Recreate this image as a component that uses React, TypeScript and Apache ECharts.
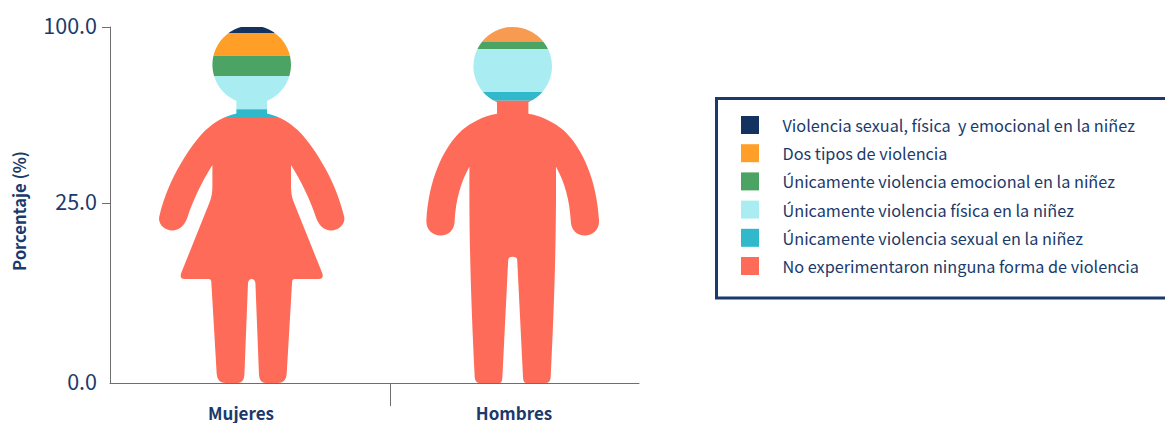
import React, { useEffect, useRef } from "react";
import * as echarts from "echarts";

const categories = ["Mujeres", "Hombres"];
const seriesNames = [
  "Violencia sexual, física  y emocional en la niñez",
  "Dos tipos de violencia",
  "Únicamente violencia emocional en la niñez",
  "Únicamente violencia física en la niñez",
  "Únicamente violencia sexual en la niñez",
  "No experimentaron ninguna forma de violencia",
];
// Values by series, [Mujeres, Hombres], listed in legend order (top of the figure first)
const ambasViolencias = [2.6, 0];
const dosTipos = [9.6, 6.4];
const soloEmocional = [8.7, 3.0];
const soloFisica = [14.1, 18.3];
const soloSexual = [3.8, 3.7];
const ninguna = [61.2, 68.6];
const seriesValues = [ambasViolencias, dosTipos, soloEmocional, soloFisica, soloSexual, ninguna];

const seriesColors = ["#14325F", "#FF9F27", "#4BA463", "#A9EDF2", "#2FB9CB", "#FF6B59"];
const maleOrange = "#F79B51";
const navy = "#1B3A6B";
const axisGrey = "#6E6E6E";
const font = '"Noto Sans CJK SC", "Noto Sans", sans-serif';

const yTickValues = [0, 25, 100];
const yTickLabels = ["0.0", "25.0", "100.0"];

// The reference's y axis is piecewise: 0-25 fills about half the height.
const BREAK_AT = 25;
const BREAK_POS = (180 / 356) * 100;
const warp = (v: number) =>
  v <= BREAK_AT ? (v / BREAK_AT) * BREAK_POS : BREAK_POS + ((v - BREAK_AT) / (100 - BREAK_AT)) * (100 - BREAK_POS);

// x axis runs over the plot width; the figures and labels sit off the even band centres
const X_MAX = 529;
const figureCenters = [141.7, 402.7];
const labelCenters = [131, 404];
const dividerTick = [280];

const femalePath =
  "M-15.3 74A39.3 39.3 0 1 1 15.3 74L15.3 86.5C28 89 38 96 46 103C60 117 83 150 92.3 189" +
  "C94.5 197 87 204 78.5 203.5C72 203 67 198 64.5 191C59 174 50 155 39.3 138L39.3 158C39.3 165 40 170 42 175" +
  "L70.5 246Q72.5 252 67 252L43 252Q40.5 252 40.4 255L35 347Q34.3 356 26 356L14 356Q8 356 7.3 348L3.7 256Q3 252 0 252" +
  "Q-3 252 -3.7 256L-7.3 348Q-8 356 -14 356L-26 356Q-34.3 356 -35 347L-40.4 255Q-40.5 252 -43 252L-67 252Q-72.5 252 -70.5 246" +
  "L-42 175C-40 170 -39.3 165 -39.3 158L-39.3 138C-50 155 -59 174 -64.5 191C-67 198 -72 203 -78.5 203.5" +
  "C-87 204 -94.5 197 -92.3 189C-83 150 -60 117 -46 103C-38 96 -28 89 -15.3 86.5Z";

const malePath =
  "M-15.7 75.3A39.3 39.3 0 1 1 15.7 75.3L15.7 86.7C30 89 42 96 50.6 103C71 122 84 155 86.3 193" +
  "C87 203 80 208.5 72.3 208.5C64 208.5 58 203 58 193C57 174 52 155 43.3 139.7C43.5 190 43 250 38 350Q37.5 356 33 356" +
  "L13.5 356Q10.5 356 10.3 350L4.5 233Q4.2 229.7 0 229.7Q-4.2 229.7 -4.5 233L-10.3 350Q-10.5 356 -13.5 356" +
  "L-33 356Q-37.5 356 -38 350C-43 250 -43.5 190 -43.3 139.7C-52 155 -57 174 -58 193C-58 203 -64 208.5 -72.3 208.5" +
  "C-80 208.5 -87 203 -86.3 193C-84 155 -71 122 -50.6 103C-42 96 -30 89 -15.7 86.7Z";
const figurePaths = [femalePath, malePath];

function buildSeries() {
  return seriesNames.map((name, s) => {
    const data = categories.map((_, c) => {
      let base = 0;
      for (let i = seriesValues.length - 1; i > s; i--) base += seriesValues[i][c];
      return [figureCenters[c], warp(base), warp(base + seriesValues[s][c]), c];
    });
    return {
      name,
      type: "custom",
      coordinateSystem: "cartesian2d",
      itemStyle: { color: seriesColors[s] },
      silent: true,
      encode: { x: 0, y: [1, 2] },
      data,
      renderItem: (_params: any, api: any) => {
        const cx = api.coord([api.value(0), 0])[0];
        const yBase = api.coord([0, api.value(1)])[1];
        const yTop = api.coord([0, api.value(2)])[1];
        const c = api.value(3);
        if (yBase - yTop <= 0) return null;
        const top = api.coord([0, 100])[1];
        const color = s === 1 && c === 1 ? maleOrange : seriesColors[s];
        return {
          type: "rect",
          shape: { x: cx - 110, y: yTop, width: 220, height: yBase - yTop },
          style: { fill: color },
          clipPath: {
            type: "path",
            x: cx,
            y: top,
            shape: { pathData: figurePaths[c] },
          },
        };
      },
    };
  });
}

const nearestIndex = (list: number[], v: number) => {
  let best = 0;
  list.forEach((x, i) => {
    if (Math.abs(x - v) < Math.abs(list[best] - v)) best = i;
  });
  return best;
};

export default function App() {
  const ref = useRef<HTMLDivElement>(null);
  useEffect(() => {
    document.body.style.margin = "0";
    document.body.style.overflow = "hidden";
    const chart = echarts.init(ref.current!, undefined, { renderer: "svg" });
    const yTickPositions = yTickValues.map(warp);
    chart.setOption({
      animation: false,
      backgroundColor: "#FFFFFF",
      grid: { left: 110, width: X_MAX, top: 27, height: 356, outerBoundsMode: "none" },
      xAxis: {
        type: "value",
        min: 0,
        max: X_MAX,
        splitLine: { show: false },
        axisLine: { show: true, onZero: false, lineStyle: { color: axisGrey, width: 1 } },
        axisTick: { show: true, customValues: dividerTick, length: 23, lineStyle: { color: axisGrey } },
        axisLabel: {
          customValues: labelCenters,
          margin: 21,
          color: navy,
          fontFamily: font,
          fontWeight: "bold",
          fontSize: 17,
          overflow: "none",
          formatter: (v: number) => categories[nearestIndex(labelCenters, v)],
        },
      },
      yAxis: {
        type: "value",
        min: 0,
        max: 100,
        name: "Porcentaje (%)",
        nameLocation: "middle",
        nameGap: 83,
        nameRotate: 90,
        nameTextStyle: { color: navy, fontFamily: font, fontWeight: "bold", fontSize: 16.6, padding: [0, 12, 0, 0] },
        splitLine: { show: false },
        axisLine: { show: true, lineStyle: { color: axisGrey, width: 1 } },
        axisTick: {
          show: true,
          customValues: yTickPositions.slice(1),
          length: 8,
          lineStyle: { color: axisGrey },
        },
        axisLabel: {
          customValues: yTickPositions,
          margin: 13,
          color: navy,
          fontFamily: font,
          fontSize: 21.5,
          lineHeight: 22,
          verticalAlign: "top",
          padding: [-13.5, 0, 0, 0],
          formatter: (v: number) => yTickLabels[nearestIndex(yTickPositions, v)],
        },
      },
      legend: {
        data: seriesNames,
        orient: "vertical",
        left: 741,
        top: 116,
        padding: 0,
        icon: "rect",
        itemWidth: 18,
        itemHeight: 18,
        itemGap: 10.2,
        selectedMode: false,
        textStyle: { color: navy, fontFamily: font, fontSize: 16.25, lineHeight: 18, padding: [0, 0, 0, 18.5] },
      },
      graphic: [
        {
          type: "rect",
          shape: { x: 716.5, y: 98.5, width: 480, height: 199.5 },
          style: { fill: "none", stroke: navy, lineWidth: 3 },
          silent: true,
          z: 0,
        },
      ],
      series: buildSeries(),
    });
    return () => chart.dispose();
  }, []);
  return <div ref={ref} style={{ width: 1165, height: 423 }} />;
}
